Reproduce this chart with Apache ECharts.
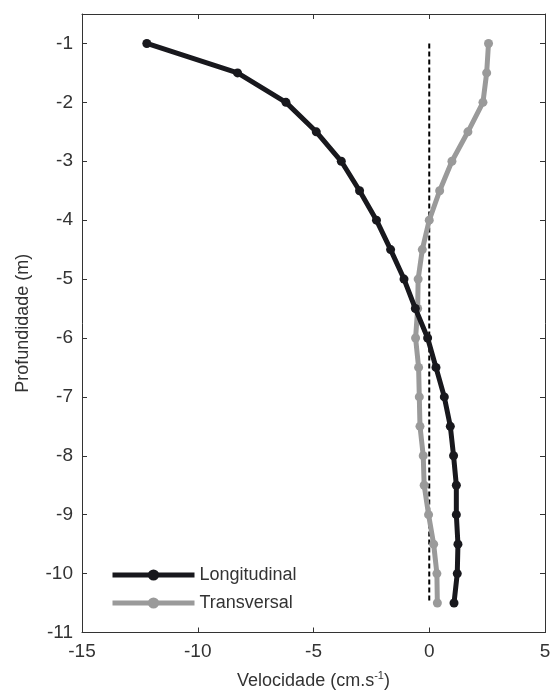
<!DOCTYPE html>
<html>
<head>
<meta charset="utf-8">
<script src="https://cdn.jsdelivr.net/npm/echarts@6/dist/echarts.min.js"></script>
<style>
  html, body { margin: 0; padding: 0; background: #fff; }
  #chart { width: 554px; height: 695px; }
</style>
</head>
<body>
<div id="chart"></div>
<script>
// depths (m), one entry per measured level
const depths = [-1, -1.5, -2, -2.5, -3, -3.5, -4, -4.5, -5, -5.5, -6, -6.5, -7, -7.5, -8, -8.5, -9, -9.5, -10, -10.5];
// velocities (cm/s)
const longitudinal = [-12.2, -8.28, -6.19, -4.88, -3.8, -3.01, -2.28, -1.67, -1.09, -0.6, -0.07, 0.29, 0.65, 0.91, 1.05, 1.17, 1.17, 1.24, 1.21, 1.07];
const transversal = [2.56, 2.48, 2.32, 1.67, 0.98, 0.45, 0.0, -0.3, -0.48, -0.5, -0.59, -0.46, -0.43, -0.4, -0.26, -0.22, -0.03, 0.19, 0.33, 0.35];
// zero reference line
const zeroLine = [[0, -1], [0, -10.5]];

const FONT = '"Liberation Sans Narrow", "Liberation Sans", Arial, sans-serif';
const BLACK = '#18181d';
const GREY = '#9a9a9a';
const TEXT = '#333';

const pair = (xs) => xs.map((v, i) => [v, depths[i]]);

const chart = echarts.init(document.getElementById('chart'));

const baseAxis = {
    axisLine: { show: true, onZero: false, lineStyle: { color: '#333', width: 1 } },
    axisTick: { show: true, inside: true, length: 5, lineStyle: { color: '#333' } },
    splitLine: { show: false }
};

chart.setOption({
    animation: false,
    textStyle: { fontFamily: FONT },
    grid: { left: 82, right: 9, top: 14, bottom: 62 },
    legend: {
        orient: 'vertical',
        left: 105,
        top: 561,
        itemWidth: 82,
        itemHeight: 14,
        itemGap: 10,
        lineStyle: { width: 5 },
        textStyle: { fontFamily: FONT, fontSize: 18, color: TEXT },
        data: ['Longitudinal', 'Transversal']
    },
    xAxis: [
        Object.assign({}, baseAxis, {
            type: 'value', min: -15, max: 5, interval: 5, position: 'bottom',
            name: '{a|Velocidade (cm.s}{s|-1}{a|)}',
            nameLocation: 'middle', nameGap: 38,
            nameTextStyle: {
                rich: {
                    a: { fontFamily: FONT, fontSize: 18, color: TEXT },
                    s: { fontFamily: FONT, fontSize: 11, color: TEXT, verticalAlign: 'top', padding: [0, 0, 10, 0] }
                }
            },
            axisLabel: { fontFamily: FONT, fontSize: 19, color: TEXT, margin: 10 }
        }),
        Object.assign({}, baseAxis, {
            type: 'value', min: -15, max: 5, interval: 5, position: 'top',
            axisLabel: { show: false }
        })
    ],
    yAxis: [
        Object.assign({}, baseAxis, {
            type: 'value', min: -11, max: -0.5, interval: 1, position: 'left',
            name: 'Profundidade (m)',
            nameLocation: 'middle', nameGap: 50, nameRotate: 90,
            nameTextStyle: { fontFamily: FONT, fontSize: 18, color: TEXT },
            axisLabel: { fontFamily: FONT, fontSize: 19, color: TEXT, margin: 9, showMaxLabel: false }
        }),
        Object.assign({}, baseAxis, {
            type: 'value', min: -11, max: -0.5, interval: 1, position: 'right',
            axisLabel: { show: false }
        })
    ],
    series: [
        {
            name: 'zero',
            type: 'line',
            data: zeroLine,
            symbol: 'none',
            silent: true,
            lineStyle: { color: '#000', width: 2, type: [5, 3] },
            z: 1
        },
        {
            name: 'Longitudinal',
            type: 'line',
            data: pair(longitudinal),
            symbol: 'circle',
            symbolSize: 9,
            itemStyle: { color: BLACK },
            lineStyle: { color: BLACK, width: 5 },
            z: 3
        },
        {
            name: 'Transversal',
            type: 'line',
            data: pair(transversal),
            symbol: 'circle',
            symbolSize: 9,
            itemStyle: { color: GREY },
            lineStyle: { color: GREY, width: 5 },
            z: 2
        }
    ]
});
</script>
</body>
</html>
